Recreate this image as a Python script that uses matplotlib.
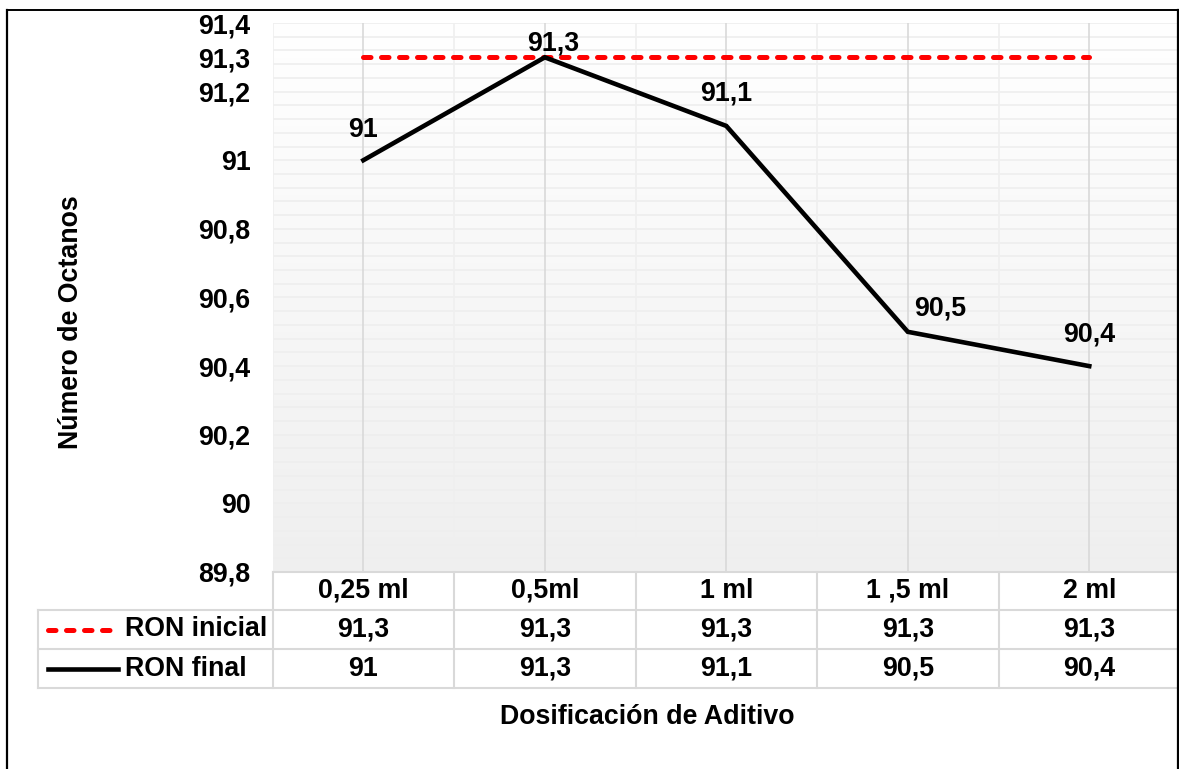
import numpy as np
import matplotlib
matplotlib.use("Agg")
import matplotlib.pyplot as plt
from matplotlib.lines import Line2D
from matplotlib.transforms import blended_transform_factory

categories = ["0,25 ml", "0,5ml", "1 ml", "1 ,5 ml", "2 ml"]
ron_inicial = [91.3, 91.3, 91.3, 91.3, 91.3]
ron_final = [91.0, 91.3, 91.1, 90.5, 90.4]
series_names = ["RON inicial", "RON final"]
ytick_values = [89.8, 90.0, 90.2, 90.4, 90.6, 90.8, 91.0, 91.2, 91.3, 91.4]
# label offsets in points (style)
label_offsets = [(0, 22), (6, 10), (0, 23), (23, 17), (0, 23)]


def fmt(v):
    s = f"{v:.2f}".rstrip("0").rstrip(".")
    return s.replace(".", ",")


plt.rcParams['font.family'] = ['Liberation Sans', 'DejaVu Sans']
plt.rcParams['font.weight'] = 'bold'
FS = 19.3

W, H = 1179, 769
fig = plt.figure(figsize=(W / 100, H / 100), dpi=100)

left_px, right_px, top_px, bot_px = 272.6, 1180.0, 23.0, 572.0
ax = fig.add_axes([left_px / W, 1 - bot_px / H, (right_px - left_px) / W, (bot_px - top_px) / H])
ax_h = bot_px - top_px
cat_w = (right_px - left_px) / len(categories)

x = np.arange(len(categories))
ax.set_xlim(-0.5, len(categories) - 0.5)
ax.set_ylim(89.8, 91.4)

# gradient background
grad = np.linspace(0, 1, 256).reshape(-1, 1)
ax.imshow(grad, extent=[0, 1, 0, 1], transform=ax.transAxes, aspect='auto',
          cmap=matplotlib.colors.LinearSegmentedColormap.from_list('g', ['#efefef', '#ffffff']),
          origin='lower', zorder=0)

# gridlines
for yv in np.arange(89.8, 91.4001, 0.04):
    ax.axhline(yv, color='#eeeeee', lw=1.2, zorder=1)
for xv in np.arange(-0.5, len(categories), 1.0):
    ax.axvline(xv, color='#efefef', lw=1.2, zorder=1)
for xv in x:
    ax.axvline(xv, color='#d9d9d9', lw=1.2, zorder=1)

for s in ax.spines.values():
    s.set_visible(False)

ax.plot(x, ron_inicial, color='#ff0000', lw=3.6, dashes=(1.5, 2.1),
        dash_capstyle='round', zorder=3)
ax.plot(x, ron_final, color='black', lw=3.3, solid_joinstyle='miter', zorder=4)

for xi, yi, off in zip(x, ron_final, label_offsets):
    ax.annotate(fmt(yi), (xi, yi), xytext=off, textcoords='offset points',
                ha='center', va='center', fontsize=FS, fontweight='bold', zorder=5)

ax.set_xticks([])
ax.set_yticks(ytick_values)
ax.set_yticklabels([fmt(v) for v in ytick_values], fontsize=FS, fontweight='bold')
ax.tick_params(axis='y', length=0, pad=16)

# data table below axes
trans = blended_transform_factory(ax.transData, ax.transAxes)
row_px = [0, 38, 77, 116]
rows = [-(r / ax_h) for r in row_px]
leg_left = -0.5 - (left_px - 38) / cat_w
tcol = '#d9d9d9'
tlw = 1.5
# horizontal lines
ax.add_line(Line2D([-0.5, len(categories) - 0.5], [rows[0], rows[0]], transform=trans,
                   color=tcol, lw=tlw, clip_on=False))
for r in rows[1:]:
    ax.add_line(Line2D([leg_left, len(categories) - 0.5], [r, r], transform=trans,
                       color=tcol, lw=tlw, clip_on=False))
# vertical lines
for xv in np.arange(-0.5, len(categories), 1.0):
    ax.add_line(Line2D([xv, xv], [rows[0], rows[3]], transform=trans,
                       color=tcol, lw=tlw, clip_on=False))
ax.add_line(Line2D([leg_left, leg_left], [rows[1], rows[3]], transform=trans,
                   color=tcol, lw=tlw, clip_on=False))

def mid(a, b):
    return (a + b) / 2

for xi, c in zip(x, categories):
    ax.text(xi, mid(rows[0], rows[1]), c, transform=trans, ha='center', va='center',
            fontsize=FS, fontweight='bold')
for xi, v in zip(x, ron_inicial):
    ax.text(xi, mid(rows[1], rows[2]), fmt(v), transform=trans, ha='center', va='center',
            fontsize=FS, fontweight='bold')
for xi, v in zip(x, ron_final):
    ax.text(xi, mid(rows[2], rows[3]), fmt(v), transform=trans, ha='center', va='center',
            fontsize=FS, fontweight='bold')

# legend keys
k0 = leg_left + 10 / cat_w
k1 = leg_left + 76 / cat_w
k1b = leg_left + 80 / cat_w
tx = leg_left + 87 / cat_w
ax.add_line(Line2D([k0, k1], [mid(rows[1], rows[2])] * 2, transform=trans, color='#ff0000',
                   lw=3.6, dashes=(1.5, 2.1), dash_capstyle='round', clip_on=False))
ax.add_line(Line2D([k0, k1b], [mid(rows[2], rows[3])] * 2, transform=trans, color='black',
                   lw=3.3, clip_on=False))
ax.text(tx, mid(rows[1], rows[2]), series_names[0], transform=trans, ha='left', va='center',
        fontsize=FS, fontweight='bold')
ax.text(tx, mid(rows[2], rows[3]), series_names[1], transform=trans, ha='left', va='center',
        fontsize=FS, fontweight='bold')

# axis titles
fig.text(71 / W, 1 - 322 / H, "Número de Octanos", rotation=90, ha='center', va='center',
         fontsize=FS, fontweight='bold')
fig.text(647 / W, 1 - 717 / H, "Dosificación de Aditivo", ha='center', va='center',
         fontsize=FS, fontweight='bold')

# outer border
bl = 6.5 / W
br = 1177.5 / W
bt = 1 - 9.5 / H
fig.add_artist(Line2D([bl, bl], [0, bt], transform=fig.transFigure, color='black', lw=1.6))
fig.add_artist(Line2D([br, br], [0, bt], transform=fig.transFigure, color='black', lw=1.6))
fig.add_artist(Line2D([bl, br], [bt, bt], transform=fig.transFigure, color='black', lw=1.4))

fig.savefig("out.png", dpi=100)
